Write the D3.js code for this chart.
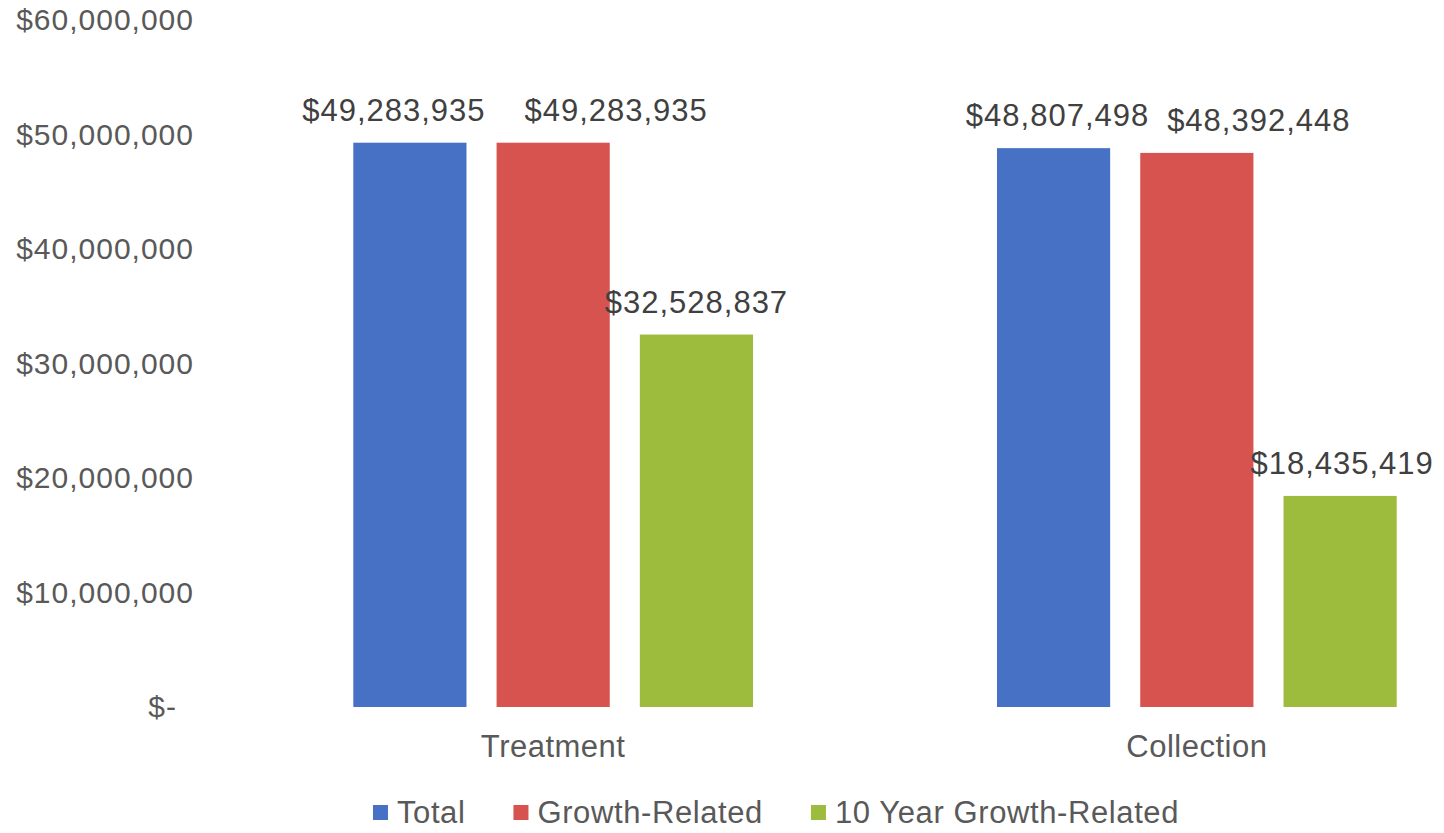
<!DOCTYPE html>
<html>
<head>
<meta charset="utf-8">
<script src="https://cdn.jsdelivr.net/npm/d3@7"></script>
<style>
  html, body { margin: 0; padding: 0; background: #fff; }
  svg { display: block; font-family: "Liberation Sans", Arial, sans-serif; }
</style>
</head>
<body>
<svg id="chart" width="1444" height="833"></svg>
<script>
// ---- data ----
const categories = ["Treatment", "Collection"];
const seriesNames = ["Total", "Growth-Related", "10 Year Growth-Related"];
const totalValues = [49283935, 48807498];
const growthValues = [49283935, 48392448];
const tenYearValues = [32528837, 18435419];
const yTicks = [0, 10000000, 20000000, 30000000, 40000000, 50000000, 60000000];

// ---- styles ----
const colors = ["#4771C4", "#D65350", "#9DBB3C"];
const labelNudge = [[-16, 63, 0], [4, 62, 2]]; // data-label x shift per category / series (px)

const seriesValues = [totalValues, growthValues, tenYearValues];
const svg = d3.select("#chart");

const y = d3.scaleLinear().domain([0, 60000000]).range([707, 20]);
const x0 = d3.scaleBand().domain(categories).range([231, 1519]).paddingInner(0.379).paddingOuter(0.19);
const x1 = d3.scaleBand().domain(seriesNames).range([0, x0.bandwidth()]).paddingInner(0.21).paddingOuter(0);

const fmt = d3.format(",");
const money = v => v === 0 ? "$-" : "$" + fmt(v);

// y axis
const yAxis = d3.axisLeft(y).tickValues(yTicks).tickFormat(money).tickSize(0).tickPadding(0);
const yg = svg.append("g").attr("transform", "translate(194,0)").call(yAxis);
yg.select(".domain").remove();
yg.selectAll("text")
  .attr("fill", "#595959")
  .style("font-size", "30px")
  .style("letter-spacing", "1px")
  .attr("font-family", "Liberation Sans, Arial, sans-serif")
  .attr("dx", d => d === 0 ? -17 : 0);

// x axis labels
const xAxis = d3.axisBottom(x0).tickSize(0).tickPadding(0);
const xg = svg.append("g").attr("transform", "translate(0,707)").call(xAxis);
xg.select(".domain").remove();
xg.selectAll("text")
  .attr("fill", "#595959")
  .style("font-size", "31px")
  .style("letter-spacing", "0.5px")
  .attr("font-family", "Liberation Sans, Arial, sans-serif")
  .attr("dy", null)
  .attr("y", 50);

// bars
const rows = [];
categories.forEach((c, ci) => {
  seriesNames.forEach((s, si) => {
    rows.push({ c, ci, s, si, v: seriesValues[si][ci] });
  });
});

const groups = svg.append("g");
groups.selectAll("rect").data(rows).join("rect")
  .attr("x", d => x0(d.c) + x1(d.s))
  .attr("width", x1.bandwidth())
  .attr("y", d => y(d.v))
  .attr("height", d => y(0) - y(d.v))
  .attr("fill", d => colors[d.si]);

groups.selectAll("text.lbl").data(rows).join("text")
  .attr("class", "lbl")
  .attr("x", d => x0(d.c) + x1(d.s) + x1.bandwidth() / 2 + labelNudge[d.ci][d.si])
  .attr("y", d => y(d.v) - 22)
  .attr("text-anchor", "middle")
  .attr("fill", "#404040")
  .style("font-size", "31px")
  .style("letter-spacing", "1px")
  .text(d => money(d.v));

// legend
const legendFont = 31;
const legend = svg.append("g");
const tmp = svg.append("text").style("font-size", legendFont + "px").style("letter-spacing", "0.6px");
const widths = seriesNames.map(n => { tmp.text(n); return tmp.node().getComputedTextLength(); });
tmp.remove();
const sq = 15, sqGap = 9, itemGap = 48;
const totalW = widths.reduce((a, w) => a + sq + sqGap + w, 0) + itemGap * (seriesNames.length - 1);
let lx = 776 - totalW / 2;
seriesNames.forEach((n, i) => {
  legend.append("rect").attr("x", lx).attr("y", 805).attr("width", sq).attr("height", sq).attr("fill", colors[i]);
  legend.append("text").attr("x", lx + sq + sqGap).attr("y", 823)
    .attr("fill", "#595959").style("font-size", legendFont + "px").style("letter-spacing", "0.6px").text(n);
  lx += sq + sqGap + widths[i] + itemGap;
});
</script>
</body>
</html>
